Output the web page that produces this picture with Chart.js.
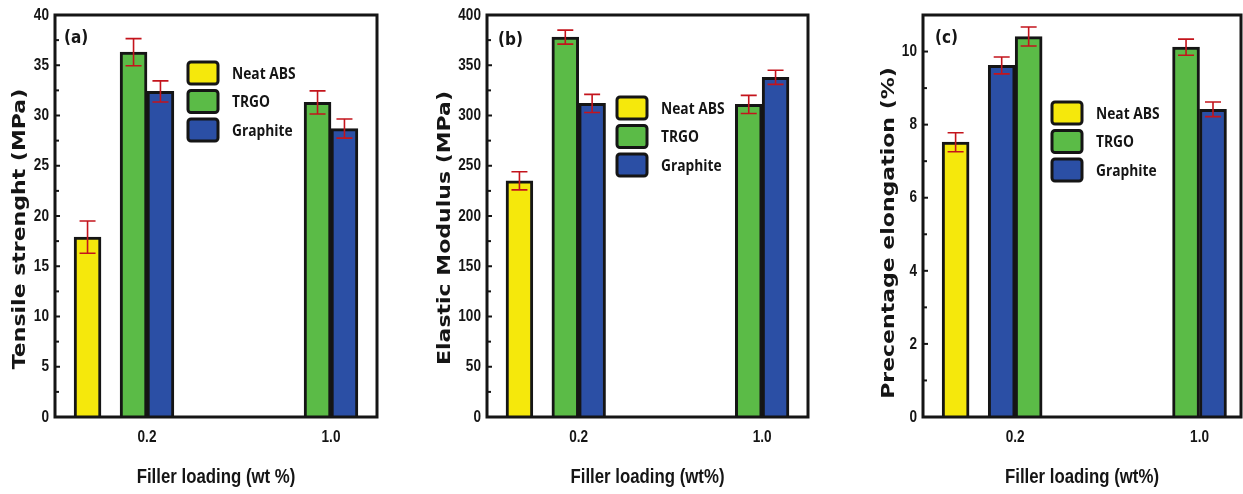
<!DOCTYPE html>
<html>
<head>
<meta charset="utf-8">
<script src="https://cdn.jsdelivr.net/npm/chart.js@4.4.0/dist/chart.umd.min.js"></script>
<style>
  body { margin: 0; background: #fff; }
  #wrap { position: relative; width: 1243px; height: 494px; overflow: hidden; }
  #wrap canvas { position: absolute; top: 0; }
</style>
</head>
<body>
<div id="wrap">
  <canvas id="chart-a" width="400" height="494" style="left:0"></canvas>
  <canvas id="chart-b" width="410" height="494" style="left:420px"></canvas>
  <canvas id="chart-c" width="393" height="494" style="left:850px"></canvas>
</div>
<script>
// shared by the three panels
const seriesNames = ['Neat ABS', 'TRGO', 'Graphite'];
const seriesColors = ['#f5e80c', '#5bbb47', '#2b4fa5'];
const loadingTicks = [0.2, 1.0];

// filler loading (wt%) of each bar; neat ABS has no filler
const neatLoading = [0];
const fillerLoading = [0.2, 1.0];
// which side of its loading a bar sits on (-1 left, +1 right)
const neatSide = [-1];
const trgoSide = [-1, -1];
const graphiteSide = [1, 1];
const trgoSideC = [1, -1];
const graphiteSideC = [-1, 1];
const halfBar = 0.0585; // half a bar, in wt%

// (a) tensile strength, MPa
const tensileNeat = [17.9];
const tensileNeatErr = [1.6];
const tensileTrgo = [36.3, 31.3];
const tensileTrgoErr = [1.35, 1.15];
const tensileGraphite = [32.4, 28.7];
const tensileGraphiteErr = [1.05, 0.95];
const tensileTicks = [0, 5, 10, 15, 20, 25, 30, 35, 40];

// (b) elastic modulus, MPa
const modulusNeat = [235];
const modulusNeatErr = [9];
const modulusTrgo = [378, 311];
const modulusTrgoErr = [7, 9];
const modulusGraphite = [312, 338];
const modulusGraphiteErr = [9, 7];
const modulusTicks = [0, 50, 100, 150, 200, 250, 300, 350, 400];

// (c) elongation, %
const elongNeat = [7.52];
const elongNeatErr = [0.26];
const elongTrgo = [10.41, 10.12];
const elongTrgoErr = [0.26, 0.22];
const elongGraphite = [9.62, 8.42];
const elongGraphiteErr = [0.23, 0.2];
const elongTicks = [0, 2, 4, 6, 8, 10];

const ink = '#151515';

function points(loadings, sides, values) {
  return values.map((v, i) => ({ x: loadings[i] + sides[i] * halfBar, y: v }));
}

// the source figure is squeezed sideways, so text is drawn narrowed
function squeezedText(ctx, text, x, y, sx, sy) {
  ctx.save();
  ctx.translate(x, y);
  ctx.scale(sx, sy);
  ctx.fillText(text, 0, 0);
  ctx.restore();
}

// error bars, frame, ticks, legend, panel letter and axis titles
const panelDecor = {
  id: 'panelDecor',
  afterDatasetsDraw(chart, args, opts) {
    const { ctx, chartArea: area } = chart;
    const { x, y } = chart.scales;
    ctx.save();

    // error bars
    ctx.strokeStyle = '#c4141c';
    ctx.lineWidth = 1.6;
    chart.data.datasets.forEach((ds, i) => {
      chart.getDatasetMeta(i).data.forEach((bar, j) => {
        const v = ds.data[j].y, e = ds.errors[j];
        const top = y.getPixelForValue(v + e), bot = y.getPixelForValue(v - e);
        ctx.beginPath();
        ctx.moveTo(bar.x, top); ctx.lineTo(bar.x, bot);
        ctx.moveTo(bar.x - 8, top); ctx.lineTo(bar.x + 8, top);
        ctx.moveTo(bar.x - 8, bot); ctx.lineTo(bar.x + 8, bot);
        ctx.stroke();
      });
    });

    // frame
    ctx.strokeStyle = ink;
    ctx.lineWidth = 3;
    ctx.strokeRect(area.left, area.top, area.right - area.left, area.bottom - area.top);

    // inward ticks on the y axis
    ctx.lineWidth = 2;
    for (let v = 0; v <= y.max + 1e-9; v += opts.minorStep) {
      const py = y.getPixelForValue(v);
      const major = Math.abs(v / (opts.minorStep * 2) - Math.round(v / (opts.minorStep * 2))) < 1e-6;
      ctx.beginPath();
      ctx.moveTo(area.left, py);
      ctx.lineTo(area.left + (major ? 5 : 4), py);
      ctx.stroke();
    }

    // tick labels
    ctx.fillStyle = ink;
    ctx.font = 'bold 17px "Liberation Sans", Arial, sans-serif';
    ctx.textBaseline = 'middle';
    ctx.textAlign = 'right';
    y.ticks.forEach(t => {
      squeezedText(ctx, String(t.value), area.left - 6, y.getPixelForValue(t.value), 0.8, 1);
    });
    ctx.textAlign = 'center';
    x.ticks.forEach(t => {
      squeezedText(ctx, t.value.toFixed(1), x.getPixelForValue(t.value), area.bottom + 20, 0.8, 1);
    });

    // x axis title
    ctx.font = 'bold 21px "Liberation Sans", Arial, sans-serif';
    squeezedText(ctx, opts.xTitle, (area.left + area.right) / 2, 477, 0.8, 1);

    // legend
    ctx.textAlign = 'left';
    chart.data.datasets.forEach((ds, i) => {
      const cy = opts.legendY + i * 28.5;
      ctx.beginPath();
      ctx.roundRect(opts.legendX, cy - 11, 30, 22, 3);
      ctx.fillStyle = ds.backgroundColor;
      ctx.fill();
      ctx.lineWidth = 3;
      ctx.strokeStyle = ink;
      ctx.stroke();
      ctx.fillStyle = ink;
      ctx.font = 'bold 16px "Open Sans", sans-serif';
      squeezedText(ctx, ds.label, opts.legendX + 44, cy + 1, 0.86, 1);
    });

    // panel letter
    ctx.font = 'bold 18px "DejaVu Sans", sans-serif';
    ctx.textBaseline = 'alphabetic';
    squeezedText(ctx, opts.letter, opts.letterX, opts.letterY, 0.85, 1);

    // y axis title
    ctx.translate(opts.yTitleX, opts.yTitleY);
    ctx.rotate(-Math.PI / 2);
    ctx.font = 'bold 22px "DejaVu Sans", sans-serif';
    ctx.textAlign = 'center';
    ctx.textBaseline = 'middle';
    squeezedText(ctx, opts.yTitle, 0, 0, 1, 0.8);
    ctx.restore();
  }
};

function makePanel(id, p) {
  const datasets = p.series.map((s, i) => ({
    label: seriesNames[i],
    data: s.data,
    errors: s.errors,
    backgroundColor: seriesColors[i],
    borderColor: ink,
    borderWidth: 3,
    grouped: false,
    barPercentage: 1,
    categoryPercentage: 1
  }));
  return new Chart(document.getElementById(id), {
    type: 'bar',
    data: { datasets },
    options: {
      responsive: false,
      animation: false,
      devicePixelRatio: 1,
      layout: { padding: { top: 15, right: p.padRight, left: 0, bottom: 0 } },
      plugins: {
        legend: { display: false },
        tooltip: { enabled: false },
        panelDecor: p.decor
      },
      scales: {
        x: {
          type: 'linear',
          min: -0.2,
          max: p.xMax,
          offset: false,
          grid: { display: false, drawTicks: false },
          border: { display: false },
          afterBuildTicks: s => { s.ticks = loadingTicks.map(v => ({ value: v })); },
          afterFit: s => { s.height = 77; },
          ticks: { display: false }
        },
        y: {
          min: 0,
          max: p.yMax,
          afterBuildTicks: s => { s.ticks = p.yTicks.map(v => ({ value: v })); },
          afterFit: s => { s.width = p.areaLeft; },
          grid: { display: false, drawTicks: false },
          border: { display: false },
          ticks: { display: false }
        }
      }
    },
    plugins: [panelDecor]
  });
}

makePanel('chart-a', {
  series: [
    { data: points(neatLoading, neatSide, tensileNeat), errors: tensileNeatErr },
    { data: points(fillerLoading, trgoSide, tensileTrgo), errors: tensileTrgoErr },
    { data: points(fillerLoading, graphiteSide, tensileGraphite), errors: tensileGraphiteErr }
  ],
  yMax: 40, yTicks: tensileTicks, xMax: 1.2,
  areaLeft: 55, padRight: 23,
  decor: { minorStep: 2.5, legendX: 188, legendY: 73, letter: '(a)', letterX: 64, letterY: 43,
           xTitle: 'Filler loading (wt %)',
           yTitle: 'Tensile strenght (MPa)', yTitleX: 20, yTitleY: 229 }
});

makePanel('chart-b', {
  series: [
    { data: points(neatLoading, neatSide, modulusNeat), errors: modulusNeatErr },
    { data: points(fillerLoading, trgoSide, modulusTrgo), errors: modulusTrgoErr },
    { data: points(fillerLoading, graphiteSide, modulusGraphite), errors: modulusGraphiteErr }
  ],
  yMax: 400, yTicks: modulusTicks, xMax: 1.2,
  areaLeft: 67, padRight: 22,
  decor: { minorStep: 25, legendX: 197, legendY: 108, letter: '(b)', letterX: 78, letterY: 45,
           xTitle: 'Filler loading (wt%)',
           yTitle: 'Elastic Modulus (MPa)', yTitleX: 25, yTitleY: 228 }
});

makePanel('chart-c', {
  series: [
    { data: points(neatLoading, neatSide, elongNeat), errors: elongNeatErr },
    { data: points(fillerLoading, trgoSideC, elongTrgo), errors: elongTrgoErr },
    { data: points(fillerLoading, graphiteSideC, elongGraphite), errors: elongGraphiteErr }
  ],
  yMax: 11, yTicks: elongTicks, xMax: 1.18,
  areaLeft: 73, padRight: 2,
  decor: { minorStep: 1, legendX: 202, legendY: 113, letter: '(c)', letterX: 85, letterY: 43,
           xTitle: 'Filler loading (wt%)',
           yTitle: 'Precentage elongation (%)', yTitleX: 39, yTitleY: 233 }
});
</script>
</body>
</html>
